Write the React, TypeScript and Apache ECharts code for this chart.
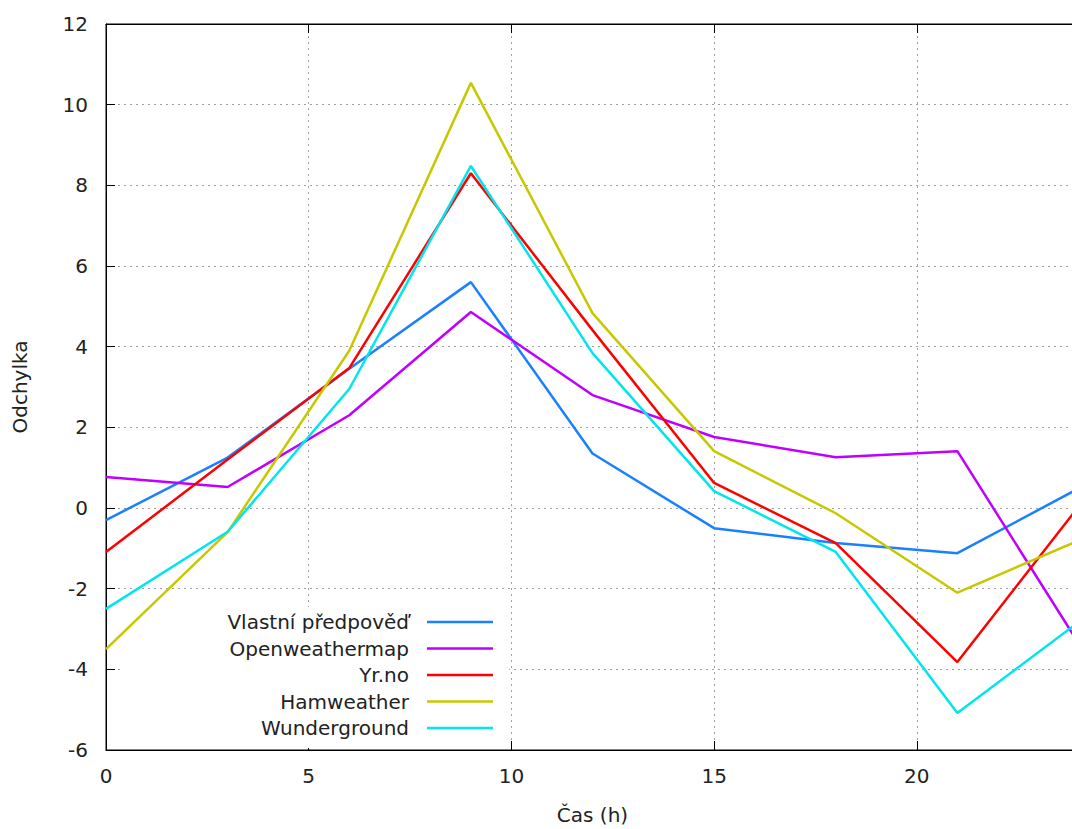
import React, { useEffect, useRef } from "react";
import * as echarts from "echarts";

const hours = [0, 3, 6, 9, 12, 15, 18, 21, 24];
const seriesNames = ["Vlastní předpověď", "Openweathermap", "Yr.no", "Hamweather", "Wunderground"];
const seriesColors = ["#1a80ff", "#c000ff", "#ff0000", "#c8c800", "#00e5ee"];
const vlastni = [-0.3, 1.25, 3.45, 5.6, 1.35, -0.5, -0.87, -1.12, 0.49];
const openweathermap = [0.77, 0.52, 2.3, 4.86, 2.8, 1.76, 1.26, 1.41, -3.37];
const yrno = [-1.09, 1.2, 3.47, 8.3, 4.41, 0.62, -0.87, -3.82, 0.05];
const hamweather = [-3.5, -0.6, 3.9, 10.54, 4.83, 1.41, -0.13, -2.1, -0.8];
const wunderground = [-2.5, -0.59, 2.95, 8.48, 3.84, 0.42, -1.09, -5.08, -2.82];
const seriesValues = [vlastni, openweathermap, yrno, hamweather, wunderground];
const xTicks = [0, 5, 10, 15, 20];
const yTicks = [-6, -4, -2, 0, 2, 4, 6, 8, 10, 12];

const FONT = "DejaVu Sans";

export default function App() {
  const ref = useRef<HTMLDivElement>(null);
  useEffect(() => {
    if (!ref.current) return;
    const chart = echarts.init(ref.current, null, { renderer: "svg" });
    const gridLine = { show: true, lineStyle: { color: "#a0a0a0", type: [2, 4] as any, width: 1 } };
    const legendX = 409;
    const legendY0 = 622;
    const legendStep = 26.5;
    const graphics: any[] = [
      {
        type: "rect",
        z: 1,
        shape: { x: 121, y: 607, width: 388, height: 141 },
        style: { fill: "#ffffff" },
        silent: true,
      },
    ];
    seriesNames.forEach((name, i) => {
      const y = legendY0 + i * legendStep;
      graphics.push({
        type: "text",
        z: 5,
        x: legendX,
        y,
        style: {
          text: name,
          fill: "#222222",
          font: `20px "${FONT}"`,
          textAlign: "right",
          textVerticalAlign: "middle",
        },
      });
      graphics.push({
        type: "line",
        z: 5,
        shape: { x1: 427, y1: y, x2: 493, y2: y },
        style: { stroke: seriesColors[i], lineWidth: 2.5 },
      });
    });
    chart.setOption({
      animation: false,
      backgroundColor: "#ffffff",
      grid: {
        left: 106,
        top: 24,
        right: -7,
        bottom: 79,
        outerBoundsMode: "none",
        containLabel: false,
        show: true,
        borderColor: "#000000",
        borderWidth: 1,
        backgroundColor: "transparent",
      },
      xAxis: [
        {
          type: "value",
          min: 0,
          max: 24,
          interval: 5,
          name: "Čas (h)",
          nameLocation: "middle",
          nameGap: 55,
          nameTextStyle: { fontFamily: FONT, fontSize: 20, color: "#222222" },
          axisLine: { show: true, onZero: false, lineStyle: { color: "#000000", width: 1 } },
          axisTick: { show: true, inside: true, length: 9, lineStyle: { color: "#000000" } },
          axisLabel: {
            fontFamily: FONT,
            fontSize: 20,
            color: "#222222",
            margin: 16,
            customValues: xTicks,
          },
          splitLine: gridLine,
        },
        {
          type: "value",
          position: "top",
          min: 0,
          max: 24,
          interval: 5,
          axisLine: { show: true, onZero: false, lineStyle: { color: "#000000", width: 1 } },
          axisTick: { show: true, inside: true, length: 9, lineStyle: { color: "#000000" } },
          axisLabel: { show: false },
          splitLine: { show: false },
        },
      ],
      yAxis: {
        type: "value",
        min: -6,
        max: 12,
        interval: 2,
        name: "Odchylka",
        nameLocation: "middle",
        nameGap: 76,
        nameTextStyle: { fontFamily: FONT, fontSize: 20, color: "#222222" },
        axisLine: { show: true, onZero: false, lineStyle: { color: "#000000", width: 1 } },
        axisTick: { show: true, inside: true, length: 9, lineStyle: { color: "#000000" } },
        axisLabel: { fontFamily: FONT, fontSize: 20, color: "#222222", margin: 18, customValues: yTicks },
        splitLine: gridLine,
      },
      graphic: graphics,
      series: seriesNames.map((name, i) => ({
        name,
        type: "line",
        z: 3,
        xAxisIndex: 0,
        data: hours.map((h, j) => [h, seriesValues[i][j]]),
        showSymbol: false,
        symbol: "none",
        clip: false,
        lineStyle: { color: seriesColors[i], width: 2.5 },
        itemStyle: { color: seriesColors[i] },
      })),
    });
    return () => chart.dispose();
  }, []);
  return (
    <div
      ref={ref}
      style={{ position: "fixed", left: 0, top: 0, width: 1072, height: 829, background: "#fff" }}
    />
  );
}
